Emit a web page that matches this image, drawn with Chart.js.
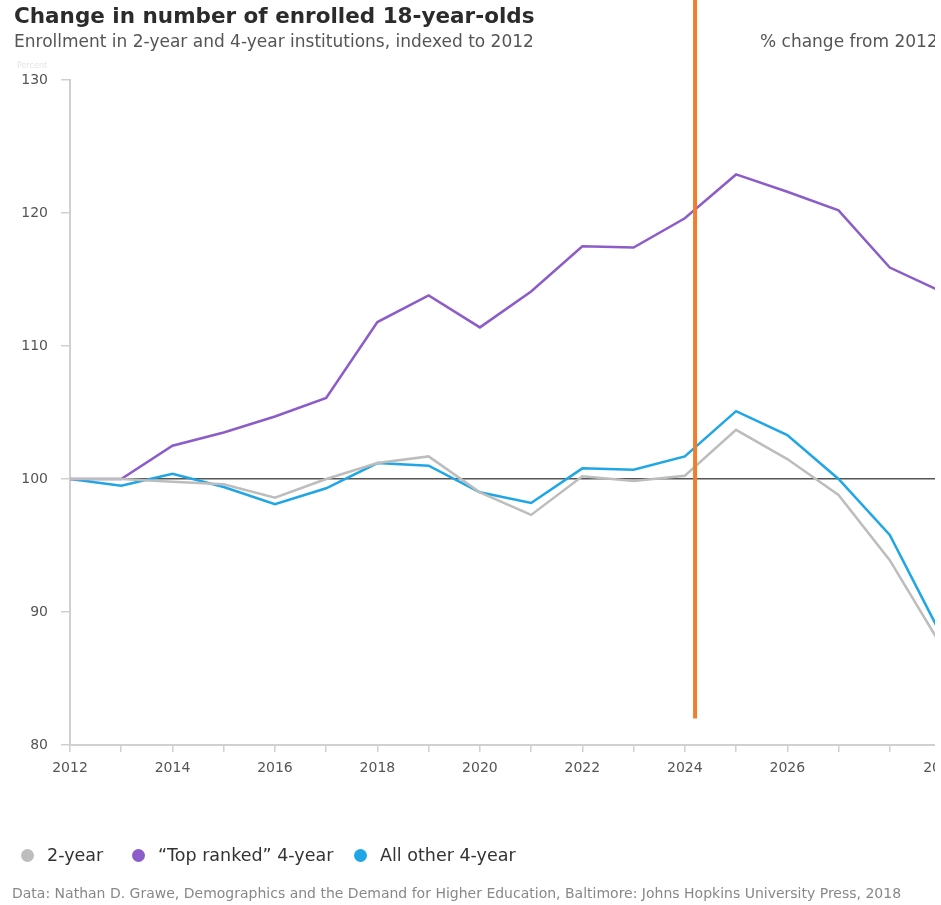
<!DOCTYPE html>
<html lang="en">
<head>
  <meta charset="UTF-8">
  <title>Change in number of enrolled 18-year-olds</title>
  <script src="https://cdn.jsdelivr.net/npm/chart.js"></script>
  <style>
    body {
      margin: 0;
      background: #fff;
      font-family: "DejaVu Sans", Arial, sans-serif;
      overflow: hidden;
    }
    .frame {
      position: relative;
      width: 935px;
      height: 905px;
      overflow: hidden;
    }
    #chartWrap {
      position: absolute;
      left: 0;
      top: 0;
      width: 1000px;
      height: 905px;
    }
    .title {
      position: absolute;
      left: 14px;
      top: 3px;
      font-size: 21.5px;
      font-weight: bold;
      color: #2b2b2b;
      white-space: nowrap;
    }
    .subtitle {
      position: absolute;
      top: 31px;
      font-size: 17px;
      color: #555;
      white-space: nowrap;
    }
    .unit {
      position: absolute;
      left: 17px;
      top: 61px;
      font-size: 8px;
      color: #e4e4e4;
    }
    .legend span.item {
      position: absolute;
      top: 845px;
      font-size: 17.5px;
      color: #333;
      white-space: nowrap;
    }
    .legend i {
      display: inline-block;
      width: 13px;
      height: 13px;
      border-radius: 50%;
      margin-right: 13px;
      vertical-align: -1px;
    }
    .source {
      position: absolute;
      left: 12px;
      top: 885px;
      font-size: 14px;
      color: #888;
      white-space: nowrap;
    }
  </style>
</head>
<body>
  <div class="frame">
    <div id="chartWrap"><canvas id="enrollChart"></canvas></div>
    <div class="title">Change in number of enrolled 18-year-olds</div>
    <div class="subtitle" style="left:14px">Enrollment in 2-year and 4-year institutions, indexed to 2012</div>
    <div class="subtitle" style="left:760px">% change from 2012</div>
    <div class="unit">Percent</div>
    <div class="legend" id="legend"></div>
    <div class="source">Data: Nathan D. Grawe, Demographics and the Demand for Higher Education, Baltimore: Johns Hopkins University Press, 2018</div>
  </div>

  <script>
    const years = [2012, 2013, 2014, 2015, 2016, 2017, 2018, 2019, 2020,
                   2021, 2022, 2023, 2024, 2025, 2026, 2027, 2028, 2029];
    const twoYear = [100, 100.0, 99.8, 99.6, 98.6, 100.0, 101.2, 101.7, 99.0,
                     97.3, 100.2, 99.85, 100.25, 103.7, 101.5, 98.8, 93.9, 87.5];
    const topRanked = [100, 100, 102.5, 103.5, 104.7, 106.1, 111.8, 113.8, 111.4,
                       114.1, 117.5, 117.4, 119.6, 122.9, 121.6, 120.2, 115.9, 114.1];
    const allOther = [100, 99.5, 100.4, 99.4, 98.1, 99.3, 101.2, 101.0, 99.0,
                      98.2, 100.8, 100.7, 101.7, 105.1, 103.3, 100.0, 95.8, 88.3];
    const yearLabels = [2012, 2014, 2016, 2018, 2020, 2022, 2024, 2026, 2029];
    const seriesNames = ['2-year', '\u201cTop ranked\u201d 4-year', 'All other 4-year'];
    const seriesColors = ['#bdbdbd', '#8c5cc9', '#1ea6e6'];
    const markerYear = 2024.2;

    const toPoints = vals => vals.map((v, i) => ({ x: years[i], y: v }));

    // legend row, one absolutely placed entry per series
    const legend = document.getElementById('legend');
    const legendLeft = [21, 132, 354];
    seriesNames.forEach((name, i) => {
      const s = document.createElement('span');
      s.className = 'item';
      s.style.left = legendLeft[i] + 'px';
      s.innerHTML = `<i style="background:${seriesColors[i]}"></i>${name}`;
      legend.appendChild(s);
    });

    // orange marker line drawn over the series
    const markerLine = {
      id: 'markerLine',
      afterDatasetsDraw(chart) {
        const { ctx, scales } = chart;
        const x = scales.x.getPixelForValue(markerYear);
        ctx.save();
        ctx.strokeStyle = '#f07e2c';
        ctx.lineWidth = 4;
        ctx.beginPath();
        ctx.moveTo(x, 0);
        ctx.lineTo(x, scales.y.getPixelForValue(82));
        ctx.stroke();
        ctx.restore();
      }
    };

    const tickFont = { family: '"DejaVu Sans", Arial, sans-serif', size: 14 };

    new Chart(document.getElementById('enrollChart'), {
      type: 'line',
      data: {
        datasets: [twoYear, topRanked, allOther].map((vals, i) => ({
          label: seriesNames[i],
          data: toPoints(vals),
          borderColor: seriesColors[i],
          backgroundColor: seriesColors[i],
          borderWidth: 2.5,
          pointRadius: 0,
          tension: 0,
          fill: false
        }))
      },
      options: {
        responsive: true,
        maintainAspectRatio: false,
        animation: false,
        layout: { padding: { top: 80, right: 59, bottom: 120, left: 0 } },
        plugins: { legend: { display: false }, tooltip: { enabled: false } },
        scales: {
          x: {
            type: 'linear',
            min: 2012,
            max: 2029,
            afterBuildTicks: scale => {
              scale.ticks = years.map(v => ({ value: v }));
            },
            afterFit: scale => { scale.height = 40; },
            ticks: {
              autoSkip: false,
              maxRotation: 0,
              padding: 8,
              color: '#555',
              font: tickFont,
              callback: v => yearLabels.includes(v) ? String(v) : ''
            },
            grid: {
              drawOnChartArea: false,
              tickLength: 7,
              color: '#d0d0d0',
              lineWidth: 1.5
            },
            border: { color: '#d0d0d0', width: 2 }
          },
          y: {
            min: 80,
            max: 130,
            afterFit: scale => { scale.width = 70; },
            ticks: {
              stepSize: 10,
              padding: 13,
              color: '#555',
              font: tickFont
            },
            grid: {
              drawOnChartArea: true,
              tickLength: 9,
              tickColor: '#d0d0d0',
              tickWidth: 1.5,
              color: c => c.tick && c.tick.value === 100 ? '#555' : 'rgba(0,0,0,0)',
              lineWidth: 1.5
            },
            border: { color: '#d0d0d0', width: 2 }
          }
        }
      },
      plugins: [markerLine]
    });
  </script>
</body>
</html>
